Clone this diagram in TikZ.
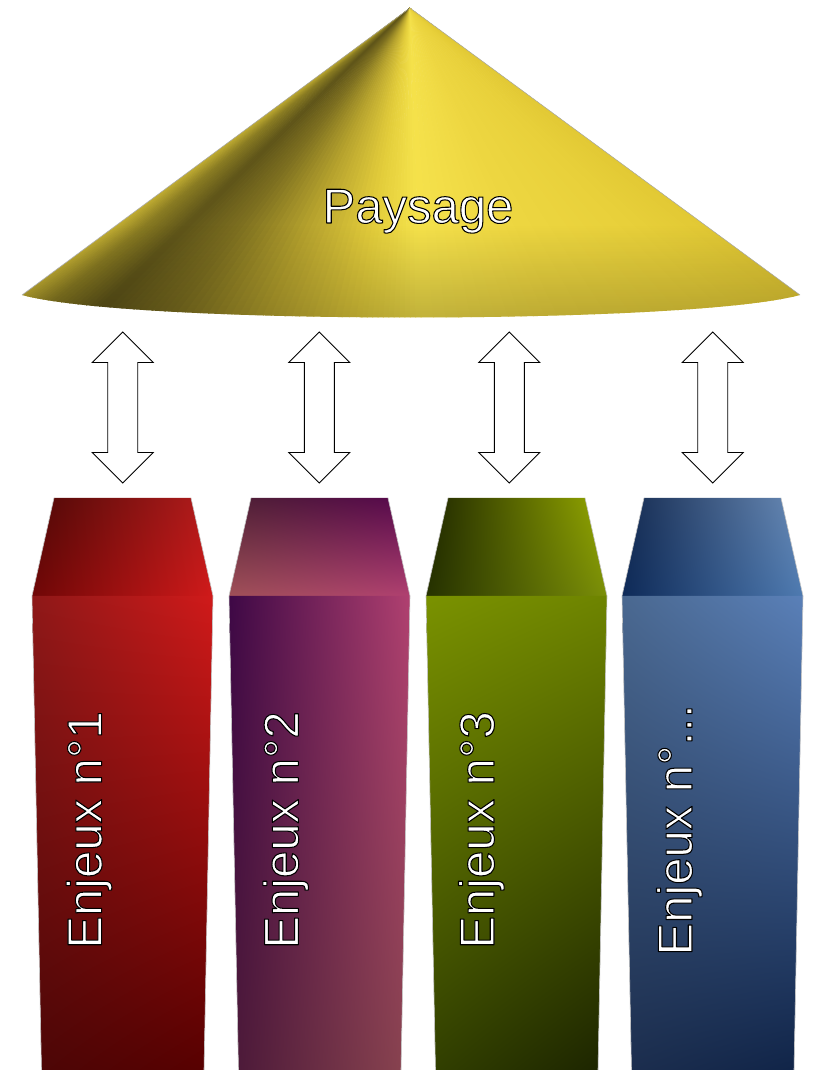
\documentclass[tikz,border=0pt]{standalone}
\usepackage{fontspec}
\setmainfont{Liberation Sans}
\usetikzlibrary{fadings,shadings}
\newcommand\outl[1]{{\color{white}\special{pdf:literal direct q 2 Tr 1.05 w 0 G 1 j}#1\special{pdf:literal direct Q}}}
% pyramid stops
\definecolor{p0}{HTML}{C2AE32}
\definecolor{p1}{HTML}{8A7C22}
\definecolor{p2}{HTML}{5E5419}
\definecolor{p3}{HTML}{7E7020}
\definecolor{p4}{HTML}{B8A42E}
\definecolor{p5}{HTML}{E2CC3A}
\definecolor{p6}{HTML}{F5E24B}
\definecolor{p7}{HTML}{EDD640}
\definecolor{p8}{HTML}{E8D03A}
\definecolor{p9}{HTML}{E2C934}
% column 1 red
\definecolor{atul}{HTML}{4E0806}\definecolor{atur}{HTML}{B51C1C}
\definecolor{atll}{HTML}{700707}\definecolor{atlr}{HTML}{D01A1A}
\definecolor{abul}{HTML}{8E1818}\definecolor{abur}{HTML}{D01A1A}
\definecolor{abll}{HTML}{4C0606}\definecolor{ablr}{HTML}{580000}
% column 2 purple
\definecolor{btul}{HTML}{4E2034}\definecolor{btur}{HTML}{58084E}
\definecolor{btll}{HTML}{A05058}\definecolor{btlr}{HTML}{B04070}
\definecolor{bbul}{HTML}{3E0846}\definecolor{bbur}{HTML}{B04070}
\definecolor{bbll}{HTML}{4A1838}\definecolor{bblr}{HTML}{8A4450}
% column 3 olive
\definecolor{ctul}{HTML}{1E2600}\definecolor{ctur}{HTML}{96AA00}
\definecolor{ctll}{HTML}{263200}\definecolor{ctlr}{HTML}{7A8E08}
\definecolor{cbul}{HTML}{7A9200}\definecolor{cbur}{HTML}{6E8400}
\definecolor{cbll}{HTML}{324000}\definecolor{cblr}{HTML}{1C2400}
% column 4 blue
\definecolor{dtul}{HTML}{142A50}\definecolor{dtur}{HTML}{6A8CB8}
\definecolor{dtll}{HTML}{0E2A58}\definecolor{dtlr}{HTML}{4E7AB0}
\definecolor{dbul}{HTML}{4A6890}\definecolor{dbur}{HTML}{5A80B8}
\definecolor{dbll}{HTML}{1C2E4E}\definecolor{dblr}{HTML}{102448}
\tikzfading[name=fadebottom, top color=transparent!100, bottom color=transparent!0]
\newcommand\enjcol[2]{%
 \shade[upper left=#2tul, upper right=#2tur, lower left=#2tll, lower right=#2tlr]
   (#1+22,572) -- (#1+159,572) -- (#1+181,474) -- (#1,474) -- cycle;
 \shade[upper left=#2bul, upper right=#2bur, lower left=#2bll, lower right=#2blr]
   (#1,474) -- (#1+181,474) -- (#1+172,0) -- (#1+9.5,0) -- cycle;
 \draw[edge] (#1+9.5,0) -- (#1,474) -- (#1+22,572);
 \draw[edge] (#1+172,0) -- (#1+181,474) -- (#1+159,572);
}
\begin{document}
\begin{tikzpicture}[x=1pt,y=1pt,
  edge/.style={gray!45, line width=0.6pt},
  lbl/.style={inner sep=0pt, font=\fontsize{49}{58}\selectfont},
  dblarrow/.pic={\draw[fill=white, line width=0.9pt, line join=miter]
     (0,75.5) -- (30.5,45) -- (15,45) -- (15,-45) -- (30.5,-45) -- (0,-75.5)
     -- (-30.5,-45) -- (-15,-45) -- (-15,45) -- (-30.5,45) -- cycle;}]
\useasboundingbox (0,0) rectangle (815,1070);
\fill[white] (0,0) rectangle (815,1070);
% pyramid
\coordinate (apex) at (410,1062);
\begin{scope}
\clip (22,775) -- (apex) -- (800,775) .. controls (690,745) and (132,745) .. (22,775) -- cycle;
\foreach \xa/\xb/\ca/\cb in {22/60/p0/p1, 60/115/p1/p2, 115/190/p2/p3, 190/280/p3/p4,
    280/360/p4/p5, 360/420/p5/p6, 420/560/p6/p7, 560/700/p7/p8, 700/801/p8/p9}{
  \foreach \k in {0,...,11}{
    \pgfmathsetmacro\xl{\xa+(\xb-\xa)*\k/12}
    \pgfmathsetmacro\xr{\xa+(\xb-\xa)*(\k+1)/12+0.6}
    \pgfmathtruncatemacro\pc{100-(\k+0.5)*100/12}
    \pgfmathsetmacro\el{410+(\xl-410)*1.3}
    \pgfmathsetmacro\er{410+(\xr-410)*1.3}
    \filldraw[fill=\ca!\pc!\cb, draw=\ca!\pc!\cb, line width=0.35pt, line join=bevel]
      (apex) -- (\el,688) -- (\er,688) -- cycle;
  }
}
\fill[black, opacity=0.22, path fading=fadebottom] (0,748) rectangle (815,845);
\end{scope}
\draw[gray!70, line width=0.5pt] (22,775) -- (apex) -- (800,775);
\node[lbl] (paysage) at (418,847) [anchor=base] {\outl{Paysage}};
% arrows
\coordinate (a1) at (122.7,662.5);
\coordinate (a2) at (319.3,662.5);
\coordinate (a3) at (509.3,662.5);
\coordinate (a4) at (712.7,662.5);
\pic at (a1) {dblarrow};
\pic at (a2) {dblarrow};
\pic at (a3) {dblarrow};
\pic at (a4) {dblarrow};
% columns
\enjcol{32}{a}
\enjcol{229}{b}
\enjcol{426}{c}
\enjcol{622}{d}
\node[lbl, rotate=90, anchor=base] (e1) at (101.7,240) {\outl{Enjeux n°1}};
\node[lbl, rotate=90, anchor=base] (e2) at (298.3,240) {\outl{Enjeux n°2}};
\node[lbl, rotate=90, anchor=base] (e3) at (494,240) {\outl{Enjeux n°3}};
\node[lbl, rotate=90, anchor=base] (e4) at (692,240) {\outl{Enjeux n°...}};
\end{tikzpicture}
\end{document}
